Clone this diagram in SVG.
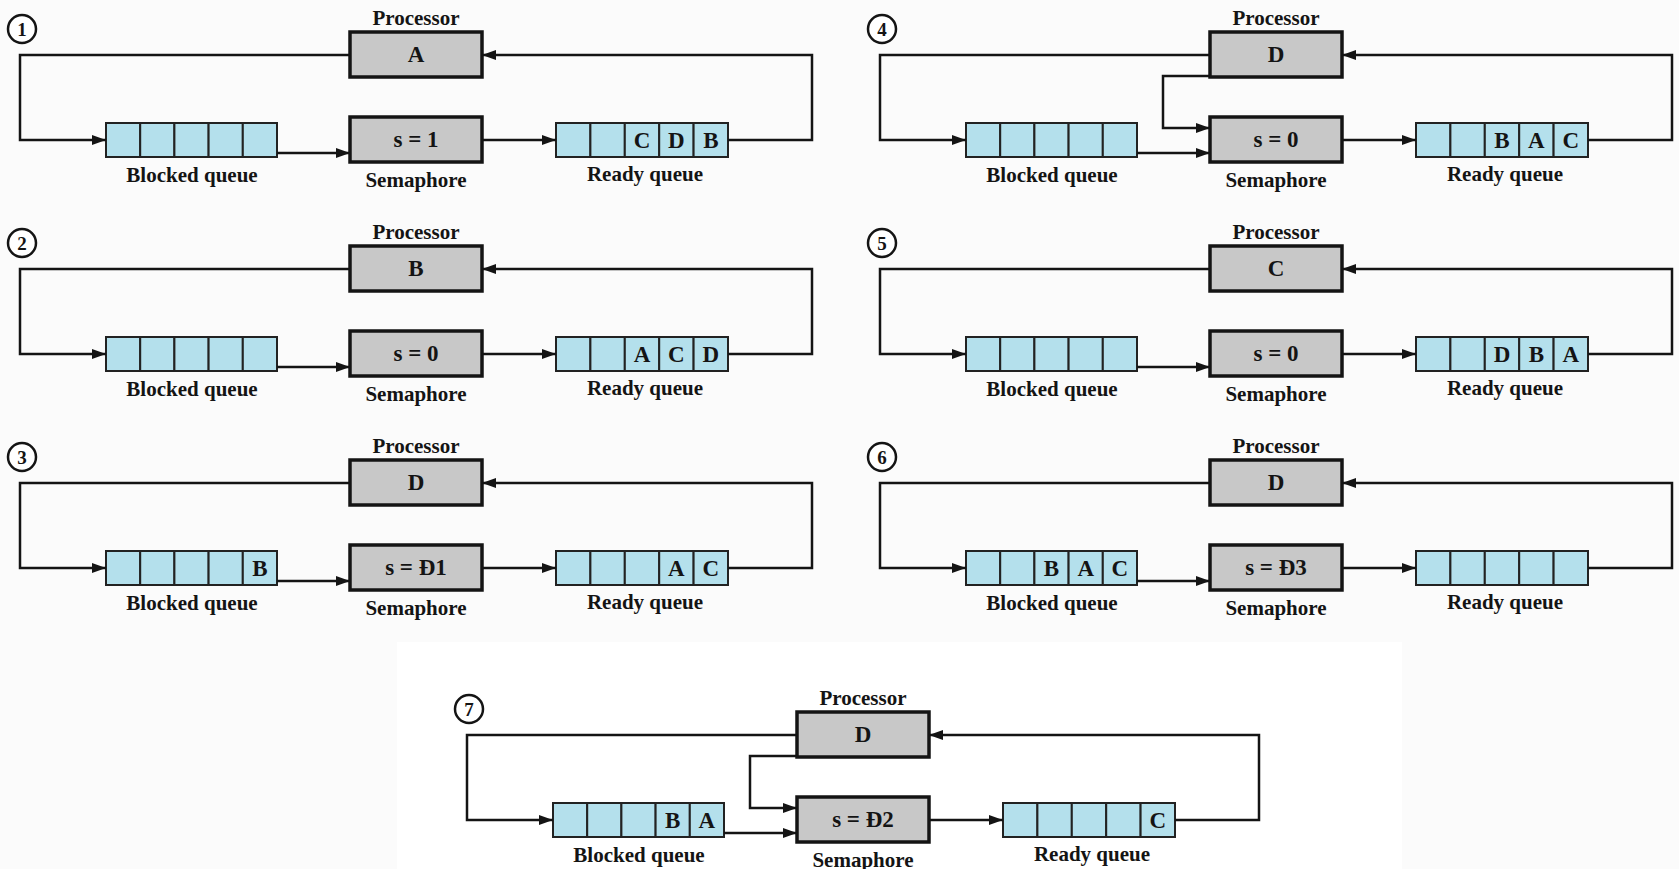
<svg xmlns="http://www.w3.org/2000/svg" width="1679" height="869" viewBox="0 0 1679 869">
<style>
.box{fill:#c8c8c8;stroke:#141414;stroke-width:3.5}
.q{fill:#b4e0ec;stroke:#222;stroke-width:2}
.conn{fill:none;stroke:#141414;stroke-width:2.5;marker-end:url(#ah)}
.lbl{font-family:"Liberation Serif",serif;font-weight:bold;font-size:21px;fill:#141414;text-anchor:middle}
.val{font-family:"Liberation Serif",serif;font-weight:bold;font-size:23px;fill:#141414;text-anchor:middle}
.num{fill:#fff;stroke:#141414;stroke-width:2.5}
.numt{font-family:"Liberation Serif",serif;font-weight:bold;font-size:19px;fill:#141414;text-anchor:middle}
</style>
<defs>
<marker id="ah" markerUnits="userSpaceOnUse" markerWidth="15" markerHeight="11" refX="14" refY="5" orient="auto">
<path d="M0,0 L14,5 L0,10 Z" fill="#141414"/>
</marker>
</defs>
<rect x="0" y="0" width="1679" height="869" fill="#fbfbfb"/>
<rect x="397" y="642" width="1005" height="227" fill="#ffffff"/>

<!-- Panel 1 -->
<g id="panel1">
 <g id="p1-step"><circle class="num" cx="22" cy="29" r="14"/><text class="numt" x="22" y="36">1</text></g>
 <g id="p1-processor"><text class="lbl" x="416" y="25">Processor</text><rect class="box" x="350" y="32" width="132" height="45"/><text class="val" x="416" y="62">A</text></g>
 <g id="p1-semaphore"><rect class="box" x="350" y="117" width="132" height="45"/><text class="val" x="416" y="147">s = 1</text><text class="lbl" x="416" y="187">Semaphore</text></g>
 <g id="p1-blocked">
  <rect class="q" x="106" y="123" width="34.2" height="34"/><rect class="q" x="140.2" y="123" width="34.2" height="34"/><rect class="q" x="174.4" y="123" width="34.2" height="34"/><rect class="q" x="208.6" y="123" width="34.2" height="34"/><rect class="q" x="242.8" y="123" width="34.2" height="34"/>
  <text class="lbl" x="192" y="182">Blocked queue</text>
 </g>
 <g id="p1-ready">
  <rect class="q" x="556" y="123" width="34.4" height="34"/><rect class="q" x="590.4" y="123" width="34.4" height="34"/><rect class="q" x="624.8" y="123" width="34.4" height="34"/><rect class="q" x="659.2" y="123" width="34.4" height="34"/><rect class="q" x="693.6" y="123" width="34.4" height="34"/>
  <text class="val" x="642" y="148">C</text><text class="val" x="676.4" y="148">D</text><text class="val" x="710.8" y="148">B</text>
  <text class="lbl" x="645" y="181">Ready queue</text>
 </g>
 <g id="p1-connectors">
  <path class="conn" d="M350,55 H20 V140 H106"/>
  <path class="conn" d="M277,153 H350"/>
  <path class="conn" d="M482,140 H556"/>
  <path class="conn" d="M728,140 H812 V55 H482"/>
 </g>
</g>

<!-- Panel 2 -->
<g id="panel2" transform="translate(0,214)">
 <g id="p2-step"><circle class="num" cx="22" cy="29" r="14"/><text class="numt" x="22" y="36">2</text></g>
 <g id="p2-processor"><text class="lbl" x="416" y="25">Processor</text><rect class="box" x="350" y="32" width="132" height="45"/><text class="val" x="416" y="62">B</text></g>
 <g id="p2-semaphore"><rect class="box" x="350" y="117" width="132" height="45"/><text class="val" x="416" y="147">s = 0</text><text class="lbl" x="416" y="187">Semaphore</text></g>
 <g id="p2-blocked">
  <rect class="q" x="106" y="123" width="34.2" height="34"/><rect class="q" x="140.2" y="123" width="34.2" height="34"/><rect class="q" x="174.4" y="123" width="34.2" height="34"/><rect class="q" x="208.6" y="123" width="34.2" height="34"/><rect class="q" x="242.8" y="123" width="34.2" height="34"/>
  <text class="lbl" x="192" y="182">Blocked queue</text>
 </g>
 <g id="p2-ready">
  <rect class="q" x="556" y="123" width="34.4" height="34"/><rect class="q" x="590.4" y="123" width="34.4" height="34"/><rect class="q" x="624.8" y="123" width="34.4" height="34"/><rect class="q" x="659.2" y="123" width="34.4" height="34"/><rect class="q" x="693.6" y="123" width="34.4" height="34"/>
  <text class="val" x="642" y="148">A</text><text class="val" x="676.4" y="148">C</text><text class="val" x="710.8" y="148">D</text>
  <text class="lbl" x="645" y="181">Ready queue</text>
 </g>
 <g id="p2-connectors">
  <path class="conn" d="M350,55 H20 V140 H106"/>
  <path class="conn" d="M277,153 H350"/>
  <path class="conn" d="M482,140 H556"/>
  <path class="conn" d="M728,140 H812 V55 H482"/>
 </g>
</g>

<!-- Panel 3 -->
<g id="panel3" transform="translate(0,428)">
 <g id="p3-step"><circle class="num" cx="22" cy="29" r="14"/><text class="numt" x="22" y="36">3</text></g>
 <g id="p3-processor"><text class="lbl" x="416" y="25">Processor</text><rect class="box" x="350" y="32" width="132" height="45"/><text class="val" x="416" y="62">D</text></g>
 <g id="p3-semaphore"><rect class="box" x="350" y="117" width="132" height="45"/><text class="val" x="416" y="147">s = Ð1</text><text class="lbl" x="416" y="187">Semaphore</text></g>
 <g id="p3-blocked">
  <rect class="q" x="106" y="123" width="34.2" height="34"/><rect class="q" x="140.2" y="123" width="34.2" height="34"/><rect class="q" x="174.4" y="123" width="34.2" height="34"/><rect class="q" x="208.6" y="123" width="34.2" height="34"/><rect class="q" x="242.8" y="123" width="34.2" height="34"/>
  <text class="val" x="260" y="148">B</text>
  <text class="lbl" x="192" y="182">Blocked queue</text>
 </g>
 <g id="p3-ready">
  <rect class="q" x="556" y="123" width="34.4" height="34"/><rect class="q" x="590.4" y="123" width="34.4" height="34"/><rect class="q" x="624.8" y="123" width="34.4" height="34"/><rect class="q" x="659.2" y="123" width="34.4" height="34"/><rect class="q" x="693.6" y="123" width="34.4" height="34"/>
  <text class="val" x="676.4" y="148">A</text><text class="val" x="710.8" y="148">C</text>
  <text class="lbl" x="645" y="181">Ready queue</text>
 </g>
 <g id="p3-connectors">
  <path class="conn" d="M350,55 H20 V140 H106"/>
  <path class="conn" d="M277,153 H350"/>
  <path class="conn" d="M482,140 H556"/>
  <path class="conn" d="M728,140 H812 V55 H482"/>
 </g>
</g>

<!-- Panel 4 -->
<g id="panel4" transform="translate(860,0)">
 <g id="p4-step"><circle class="num" cx="22" cy="29" r="14"/><text class="numt" x="22" y="36">4</text></g>
 <g id="p4-processor"><text class="lbl" x="416" y="25">Processor</text><rect class="box" x="350" y="32" width="132" height="45"/><text class="val" x="416" y="62">D</text></g>
 <g id="p4-semaphore"><rect class="box" x="350" y="117" width="132" height="45"/><text class="val" x="416" y="147">s = 0</text><text class="lbl" x="416" y="187">Semaphore</text></g>
 <g id="p4-blocked">
  <rect class="q" x="106" y="123" width="34.2" height="34"/><rect class="q" x="140.2" y="123" width="34.2" height="34"/><rect class="q" x="174.4" y="123" width="34.2" height="34"/><rect class="q" x="208.6" y="123" width="34.2" height="34"/><rect class="q" x="242.8" y="123" width="34.2" height="34"/>
  <text class="lbl" x="192" y="182">Blocked queue</text>
 </g>
 <g id="p4-ready">
  <rect class="q" x="556" y="123" width="34.4" height="34"/><rect class="q" x="590.4" y="123" width="34.4" height="34"/><rect class="q" x="624.8" y="123" width="34.4" height="34"/><rect class="q" x="659.2" y="123" width="34.4" height="34"/><rect class="q" x="693.6" y="123" width="34.4" height="34"/>
  <text class="val" x="642" y="148">B</text><text class="val" x="676.4" y="148">A</text><text class="val" x="710.8" y="148">C</text>
  <text class="lbl" x="645" y="181">Ready queue</text>
 </g>
 <g id="p4-connectors">
  <path class="conn" d="M350,55 H20 V140 H106"/>
  <path class="conn" d="M277,153 H350"/>
  <path class="conn" d="M350,76 H303 V128 H350"/>
  <path class="conn" d="M482,140 H556"/>
  <path class="conn" d="M728,140 H812 V55 H482"/>
 </g>
</g>

<!-- Panel 5 -->
<g id="panel5" transform="translate(860,214)">
 <g id="p5-step"><circle class="num" cx="22" cy="29" r="14"/><text class="numt" x="22" y="36">5</text></g>
 <g id="p5-processor"><text class="lbl" x="416" y="25">Processor</text><rect class="box" x="350" y="32" width="132" height="45"/><text class="val" x="416" y="62">C</text></g>
 <g id="p5-semaphore"><rect class="box" x="350" y="117" width="132" height="45"/><text class="val" x="416" y="147">s = 0</text><text class="lbl" x="416" y="187">Semaphore</text></g>
 <g id="p5-blocked">
  <rect class="q" x="106" y="123" width="34.2" height="34"/><rect class="q" x="140.2" y="123" width="34.2" height="34"/><rect class="q" x="174.4" y="123" width="34.2" height="34"/><rect class="q" x="208.6" y="123" width="34.2" height="34"/><rect class="q" x="242.8" y="123" width="34.2" height="34"/>
  <text class="lbl" x="192" y="182">Blocked queue</text>
 </g>
 <g id="p5-ready">
  <rect class="q" x="556" y="123" width="34.4" height="34"/><rect class="q" x="590.4" y="123" width="34.4" height="34"/><rect class="q" x="624.8" y="123" width="34.4" height="34"/><rect class="q" x="659.2" y="123" width="34.4" height="34"/><rect class="q" x="693.6" y="123" width="34.4" height="34"/>
  <text class="val" x="642" y="148">D</text><text class="val" x="676.4" y="148">B</text><text class="val" x="710.8" y="148">A</text>
  <text class="lbl" x="645" y="181">Ready queue</text>
 </g>
 <g id="p5-connectors">
  <path class="conn" d="M350,55 H20 V140 H106"/>
  <path class="conn" d="M277,153 H350"/>
  <path class="conn" d="M482,140 H556"/>
  <path class="conn" d="M728,140 H812 V55 H482"/>
 </g>
</g>

<!-- Panel 6 -->
<g id="panel6" transform="translate(860,428)">
 <g id="p6-step"><circle class="num" cx="22" cy="29" r="14"/><text class="numt" x="22" y="36">6</text></g>
 <g id="p6-processor"><text class="lbl" x="416" y="25">Processor</text><rect class="box" x="350" y="32" width="132" height="45"/><text class="val" x="416" y="62">D</text></g>
 <g id="p6-semaphore"><rect class="box" x="350" y="117" width="132" height="45"/><text class="val" x="416" y="147">s = Ð3</text><text class="lbl" x="416" y="187">Semaphore</text></g>
 <g id="p6-blocked">
  <rect class="q" x="106" y="123" width="34.2" height="34"/><rect class="q" x="140.2" y="123" width="34.2" height="34"/><rect class="q" x="174.4" y="123" width="34.2" height="34"/><rect class="q" x="208.6" y="123" width="34.2" height="34"/><rect class="q" x="242.8" y="123" width="34.2" height="34"/>
  <text class="val" x="191.5" y="148">B</text><text class="val" x="225.7" y="148">A</text><text class="val" x="259.9" y="148">C</text>
  <text class="lbl" x="192" y="182">Blocked queue</text>
 </g>
 <g id="p6-ready">
  <rect class="q" x="556" y="123" width="34.4" height="34"/><rect class="q" x="590.4" y="123" width="34.4" height="34"/><rect class="q" x="624.8" y="123" width="34.4" height="34"/><rect class="q" x="659.2" y="123" width="34.4" height="34"/><rect class="q" x="693.6" y="123" width="34.4" height="34"/>
  <text class="lbl" x="645" y="181">Ready queue</text>
 </g>
 <g id="p6-connectors">
  <path class="conn" d="M350,55 H20 V140 H106"/>
  <path class="conn" d="M277,153 H350"/>
  <path class="conn" d="M482,140 H556"/>
  <path class="conn" d="M728,140 H812 V55 H482"/>
 </g>
</g>

<!-- Panel 7 -->
<g id="panel7" transform="translate(447,680)">
 <g id="p7-step"><circle class="num" cx="22" cy="29" r="14"/><text class="numt" x="22" y="36">7</text></g>
 <g id="p7-processor"><text class="lbl" x="416" y="25">Processor</text><rect class="box" x="350" y="32" width="132" height="45"/><text class="val" x="416" y="62">D</text></g>
 <g id="p7-semaphore"><rect class="box" x="350" y="117" width="132" height="45"/><text class="val" x="416" y="147">s = Ð2</text><text class="lbl" x="416" y="187">Semaphore</text></g>
 <g id="p7-blocked">
  <rect class="q" x="106" y="123" width="34.2" height="34"/><rect class="q" x="140.2" y="123" width="34.2" height="34"/><rect class="q" x="174.4" y="123" width="34.2" height="34"/><rect class="q" x="208.6" y="123" width="34.2" height="34"/><rect class="q" x="242.8" y="123" width="34.2" height="34"/>
  <text class="val" x="225.7" y="148">B</text><text class="val" x="259.9" y="148">A</text>
  <text class="lbl" x="192" y="182">Blocked queue</text>
 </g>
 <g id="p7-ready">
  <rect class="q" x="556" y="123" width="34.4" height="34"/><rect class="q" x="590.4" y="123" width="34.4" height="34"/><rect class="q" x="624.8" y="123" width="34.4" height="34"/><rect class="q" x="659.2" y="123" width="34.4" height="34"/><rect class="q" x="693.6" y="123" width="34.4" height="34"/>
  <text class="val" x="710.8" y="148">C</text>
  <text class="lbl" x="645" y="181">Ready queue</text>
 </g>
 <g id="p7-connectors">
  <path class="conn" d="M350,55 H20 V140 H106"/>
  <path class="conn" d="M277,153 H350"/>
  <path class="conn" d="M350,76 H303 V128 H350"/>
  <path class="conn" d="M482,140 H556"/>
  <path class="conn" d="M728,140 H812 V55 H482"/>
 </g>
</g>
</svg>
